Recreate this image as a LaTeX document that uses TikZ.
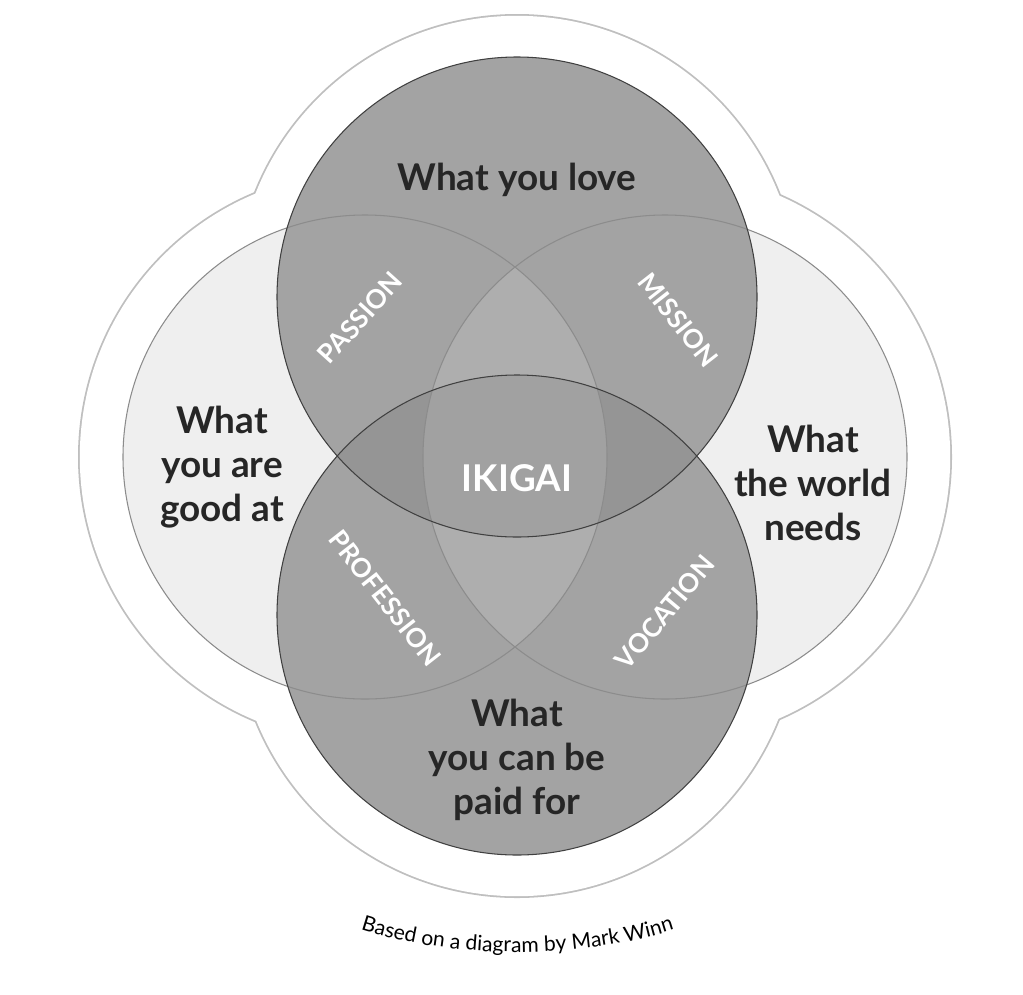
\documentclass[tikz,border=0pt]{standalone}
\usepackage{fontspec}
\setmainfont{Lato}
\usetikzlibrary{decorations.text}
\begin{document}
\begin{tikzpicture}[x=0.02cm,y=-0.02cm,
  big/.style={font=\bfseries\fontsize{21}{25}\selectfont, text=black!85, align=center},
  sub/.style={font=\bfseries\fontsize{15}{18}\selectfont, text=white},
  ring/.style={draw=black!75, line width=0.6pt}]
\useasboundingbox (0,0) rectangle (1023,994);
% outer flower
\foreach \c/\r in {{(517,297)}/283,{(517,615)}/283,{(365,457)}/287,{(665,457)}/287}
  \fill[black!25] \c circle (\r);
\foreach \c/\r in {{(517,297)}/283,{(517,615)}/283,{(365,457)}/287,{(665,457)}/287}
  \fill[white] \c circle (\r-1.8);
% side circles base
\fill[black!7] (365,457) circle (242);
\fill[black!7] (665,457) circle (242);
% top/bottom
\fill[black, fill opacity=0.36] (517,297) circle (240);
\fill[black, fill opacity=0.36] (517,615) circle (240);
\begin{scope}
  \clip (517,297) circle (240);
  \fill[white, fill opacity=0.25] (517,615) circle (240);
\end{scope}
\fill[white, fill opacity=0.12] (365,457) circle (242);
\fill[white, fill opacity=0.12] (665,457) circle (242);
\draw[ring, draw=black!45] (365,457) circle (242);
\draw[ring, draw=black!45] (665,457) circle (242);
\draw[ring] (517,297) circle (240);
\draw[ring] (517,615) circle (240);
% labels
\node[big] (love) at (517,180) {What you love};
\node[big] (good) at (222,467) {What\\you are\\good at};
\node[big] (world) at (813,483) {What\\the world\\needs};
\node[big] (paid) at (517,760) {What\\you can be\\paid for};
\node[font=\bfseries\fontsize{21}{25}\selectfont, text=white] (ik) at (517,478) {IKIGAI};
\node[sub, rotate=48] (pa) at (360,318) {PASSION};
\node[sub, rotate=-52] (mi) at (678,320) {MISSION};
\node[sub, rotate=-52] (pr) at (385,598) {PROFESSION};
\node[sub, rotate=50] (vo) at (665,612) {VOCATION};
\path[decorate, decoration={text along path, text align=center,
  text={|\fontsize{12}{14}\selectfont|Based on a diagram by Mark Winn}}]
  (340,922) .. controls (440,962) and (595,962) .. (695,922);
\end{tikzpicture}
\end{document}
